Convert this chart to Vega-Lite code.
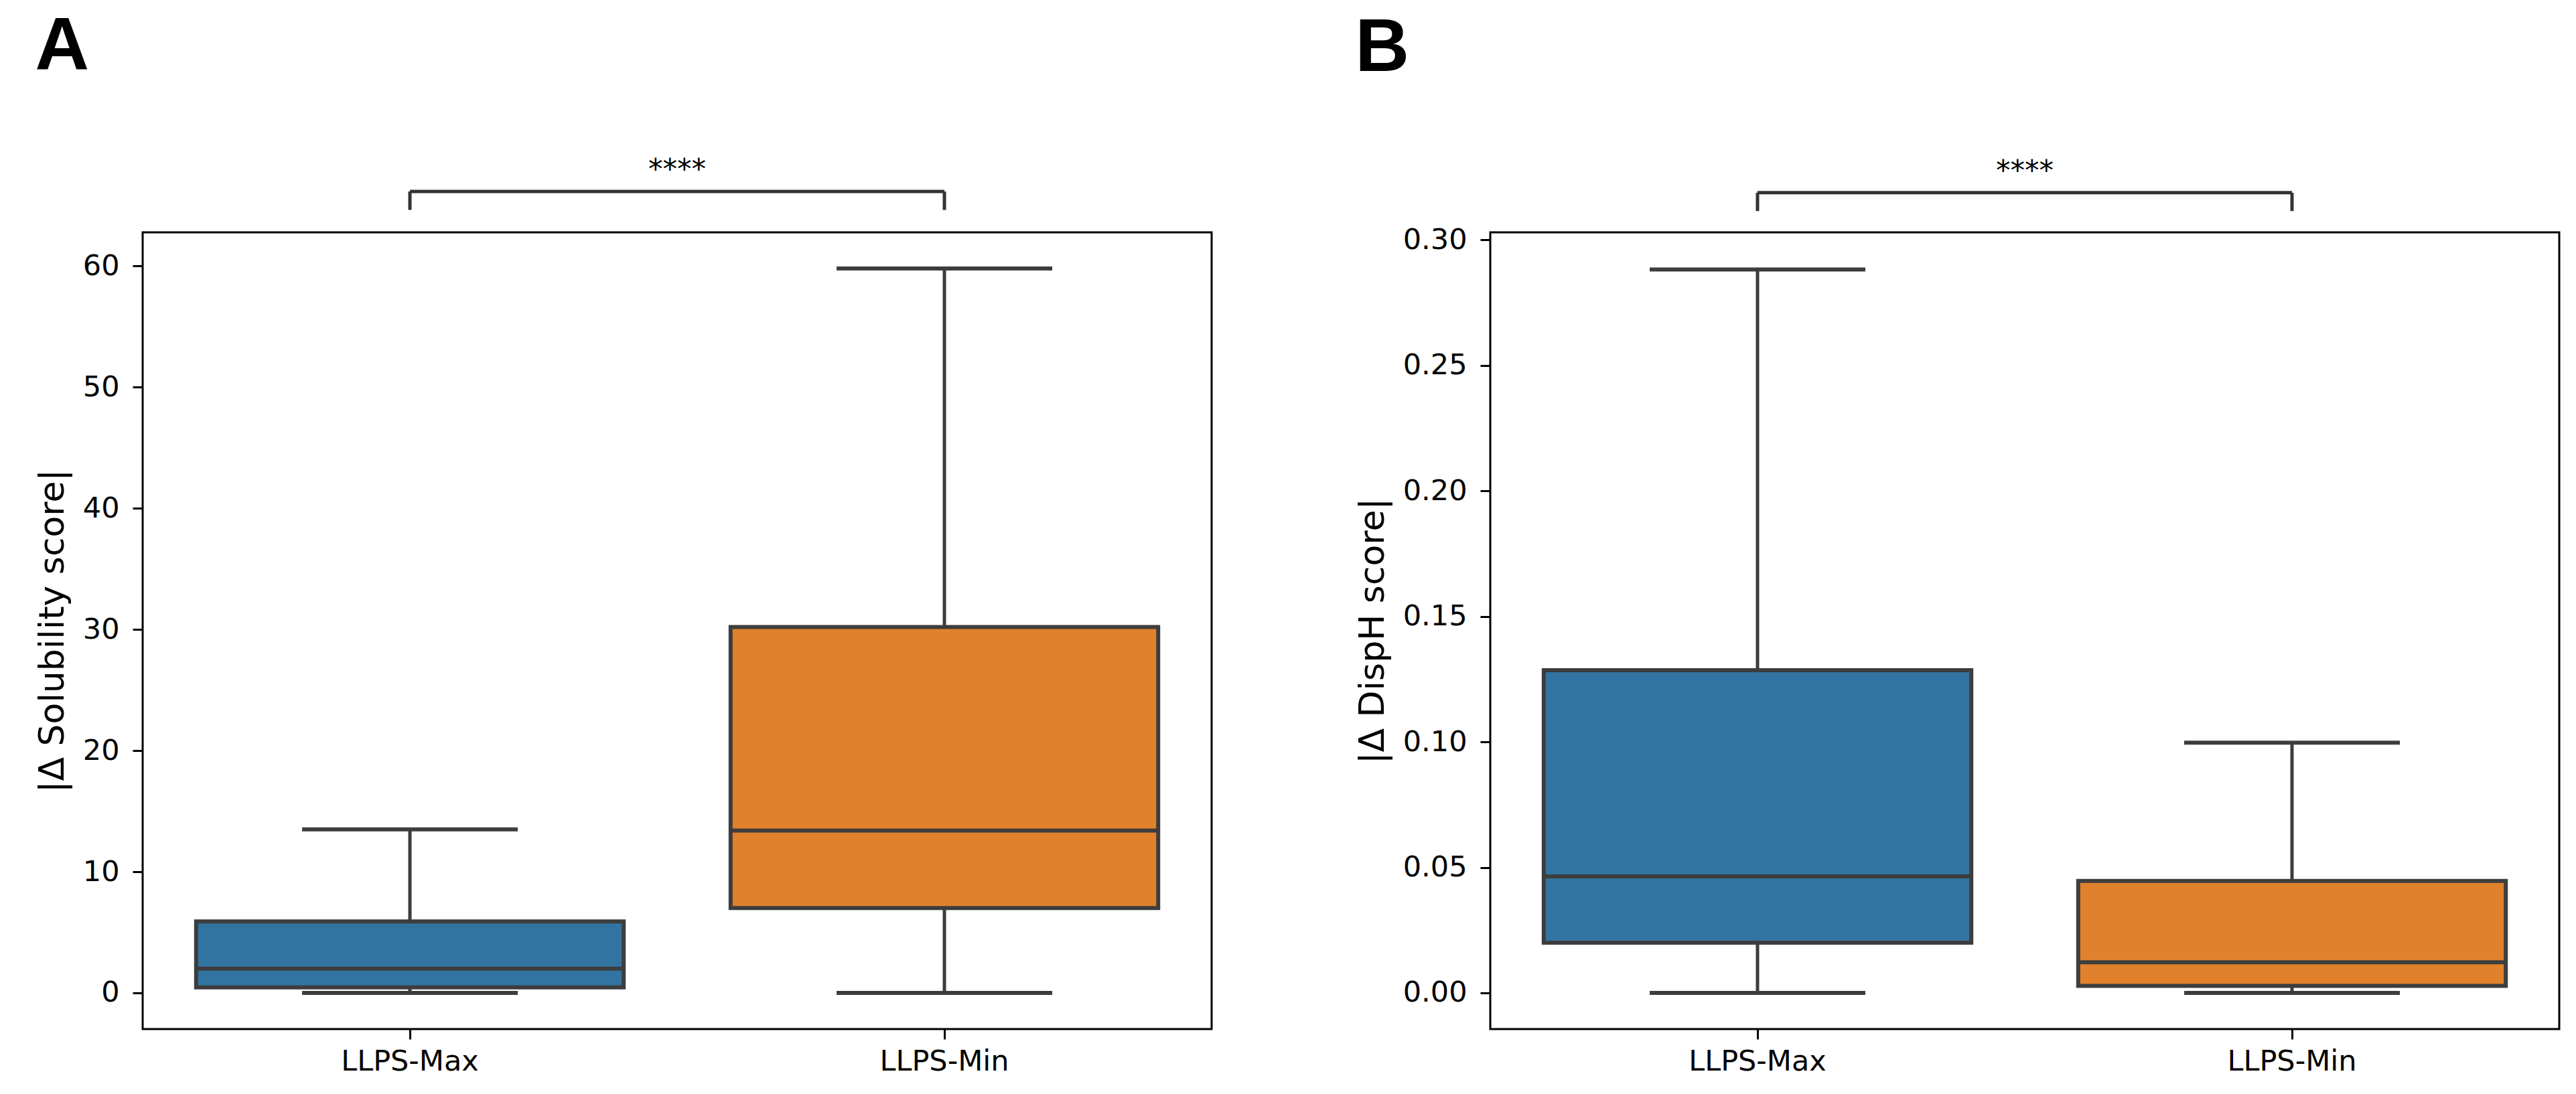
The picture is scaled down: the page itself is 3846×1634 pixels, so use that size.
{
  "$schema": "https://vega.github.io/schema/vega-lite/v6.json",
  "background": "white",
  "padding": {"left": 50, "top": 12, "right": 5, "bottom": 5},
  "spacing": 210,
  "config": {
    "view": {"stroke": "black", "strokeWidth": 3},
    "font": "DejaVu Sans",
    "axis": {
      "grid": false,
      "domain": false,
      "tickColor": "black",
      "tickWidth": 3,
      "tickSize": 15,
      "labelFont": "DejaVu Sans",
      "labelFontSize": 43,
      "labelColor": "black",
      "labelLimit": 0,
      "titleFont": "DejaVu Sans",
      "titleFontSize": 52,
      "titleFontWeight": "normal",
      "titleColor": "black"
    },
    "title": {"font": "Liberation Sans", "fontSize": 112, "fontWeight": "bold", "color": "black", "anchor": "start", "frame": "bounds", "offset": 105}
  },
  "datasets": {
    "boxA": [
      {"group": "LLPS-Max", "lower": 0, "q1": 0.45, "median": 2.0, "q3": 5.9, "upper": 13.5},
      {"group": "LLPS-Min", "lower": 0, "q1": 7.0, "median": 13.4, "q3": 30.2, "upper": 59.8}
    ],
    "boxB": [
      {"group": "LLPS-Max", "lower": 0, "q1": 0.020, "median": 0.0464, "q3": 0.1286, "upper": 0.2882},
      {"group": "LLPS-Min", "lower": 0, "q1": 0.0028, "median": 0.0122, "q3": 0.0446, "upper": 0.0997}
    ],
    "brA": [{"g": "LLPS-Max", "gEnd": "LLPS-Min", "top": 66.16, "foot": 64.64, "label": "****"}],
    "brB": [{"g": "LLPS-Max", "gEnd": "LLPS-Min", "top": 0.3188, "foot": 0.3115, "label": "****"}]
  },
  "hconcat": [
    {
      "width": 1596,
      "height": 1190,
      "title": {"text": "A"},
      "encoding": {
        "x": {"field": "group", "type": "nominal", "scale": {"domain": ["LLPS-Max", "LLPS-Min"], "paddingInner": 0, "paddingOuter": 0}, "axis": {"title": null, "labelAngle": 0, "labelPadding": 12}}
      },
      "layer": [
        {
          "data": {"name": "boxA"},
          "mark": {"type": "rule", "color": "#3d3d3d", "strokeWidth": 5, "opacity": 1},
          "encoding": {
            "y": {"field": "lower", "type": "quantitative", "scale": {"domain": [-2.99, 62.79], "nice": false, "zero": false}, "axis": {"values": [0, 10, 20, 30, 40, 50, 60], "title": "|Δ Solubility score|", "labelPadding": 20, "titlePadding": 18}},
            "y2": {"field": "upper"}
          }
        },
        {
          "data": {"name": "boxA"},
          "mark": {"type": "bar", "width": {"band": 0.8}, "stroke": "#3d3d3d", "strokeWidth": 6, "opacity": 1},
          "encoding": {
            "y": {"field": "q1", "type": "quantitative"},
            "y2": {"field": "q3"},
            "color": {"field": "group", "type": "nominal", "scale": {"domain": ["LLPS-Max", "LLPS-Min"], "range": ["#3274a1", "#e1812c"]}, "legend": null}
          }
        },
        {
          "data": {"name": "boxA"},
          "mark": {"type": "tick", "size": 638, "thickness": 6, "color": "#3d3d3d", "opacity": 1},
          "encoding": {"y": {"field": "median", "type": "quantitative"}}
        },
        {
          "data": {"name": "boxA"},
          "mark": {"type": "tick", "size": 322, "thickness": 6, "color": "#3d3d3d", "opacity": 1},
          "encoding": {"y": {"field": "lower", "type": "quantitative"}}
        },
        {
          "data": {"name": "boxA"},
          "mark": {"type": "tick", "size": 322, "thickness": 6, "color": "#3d3d3d", "opacity": 1},
          "encoding": {"y": {"field": "upper", "type": "quantitative"}}
        },
        {
          "data": {"name": "brA"},
          "mark": {"type": "rule", "color": "#333333", "strokeWidth": 5},
          "encoding": {
            "x": {"field": "g", "type": "nominal"},
            "x2": {"field": "gEnd"},
            "y": {"field": "top", "type": "quantitative"}
          }
        },
        {
          "data": {"name": "brA"},
          "mark": {"type": "rule", "color": "#333333", "strokeWidth": 5},
          "encoding": {
            "x": {"field": "g", "type": "nominal"},
            "y": {"field": "foot", "type": "quantitative"},
            "y2": {"field": "top"}
          }
        },
        {
          "data": {"name": "brA"},
          "mark": {"type": "rule", "color": "#333333", "strokeWidth": 5},
          "encoding": {
            "x": {"field": "gEnd", "type": "nominal"},
            "y": {"field": "foot", "type": "quantitative"},
            "y2": {"field": "top"}
          }
        },
        {
          "data": {"name": "brA"},
          "mark": {"type": "text", "font": "DejaVu Sans", "fontSize": 43, "color": "black", "baseline": "alphabetic", "align": "center", "dy": -19},
          "encoding": {
            "x": {"field": "g", "type": "nominal", "bandPosition": 1},
            "y": {"field": "top", "type": "quantitative"},
            "text": {"field": "label"}
          }
        }
      ]
    },
    {
      "width": 1596,
      "height": 1190,
      "title": {"text": "B"},
      "encoding": {
        "x": {"field": "group", "type": "nominal", "scale": {"domain": ["LLPS-Max", "LLPS-Min"], "paddingInner": 0, "paddingOuter": 0}, "axis": {"title": null, "labelAngle": 0, "labelPadding": 12}}
      },
      "layer": [
        {
          "data": {"name": "boxB"},
          "mark": {"type": "rule", "color": "#3d3d3d", "strokeWidth": 5, "opacity": 1},
          "encoding": {
            "y": {"field": "lower", "type": "quantitative", "scale": {"domain": [-0.01441, 0.30302], "nice": false, "zero": false}, "axis": {"values": [0, 0.05, 0.1, 0.15, 0.2, 0.25, 0.3], "format": ".2f", "title": "|Δ DispH score|", "labelPadding": 20, "titlePadding": 18}},
            "y2": {"field": "upper"}
          }
        },
        {
          "data": {"name": "boxB"},
          "mark": {"type": "bar", "width": {"band": 0.8}, "stroke": "#3d3d3d", "strokeWidth": 6, "opacity": 1},
          "encoding": {
            "y": {"field": "q1", "type": "quantitative"},
            "y2": {"field": "q3"},
            "color": {"field": "group", "type": "nominal", "scale": {"domain": ["LLPS-Max", "LLPS-Min"], "range": ["#3274a1", "#e1812c"]}, "legend": null}
          }
        },
        {
          "data": {"name": "boxB"},
          "mark": {"type": "tick", "size": 638, "thickness": 6, "color": "#3d3d3d", "opacity": 1},
          "encoding": {"y": {"field": "median", "type": "quantitative"}}
        },
        {
          "data": {"name": "boxB"},
          "mark": {"type": "tick", "size": 322, "thickness": 6, "color": "#3d3d3d", "opacity": 1},
          "encoding": {"y": {"field": "lower", "type": "quantitative"}}
        },
        {
          "data": {"name": "boxB"},
          "mark": {"type": "tick", "size": 322, "thickness": 6, "color": "#3d3d3d", "opacity": 1},
          "encoding": {"y": {"field": "upper", "type": "quantitative"}}
        },
        {
          "data": {"name": "brB"},
          "mark": {"type": "rule", "color": "#333333", "strokeWidth": 5},
          "encoding": {
            "x": {"field": "g", "type": "nominal"},
            "x2": {"field": "gEnd"},
            "y": {"field": "top", "type": "quantitative"}
          }
        },
        {
          "data": {"name": "brB"},
          "mark": {"type": "rule", "color": "#333333", "strokeWidth": 5},
          "encoding": {
            "x": {"field": "g", "type": "nominal"},
            "y": {"field": "foot", "type": "quantitative"},
            "y2": {"field": "top"}
          }
        },
        {
          "data": {"name": "brB"},
          "mark": {"type": "rule", "color": "#333333", "strokeWidth": 5},
          "encoding": {
            "x": {"field": "gEnd", "type": "nominal"},
            "y": {"field": "foot", "type": "quantitative"},
            "y2": {"field": "top"}
          }
        },
        {
          "data": {"name": "brB"},
          "mark": {"type": "text", "font": "DejaVu Sans", "fontSize": 43, "color": "black", "baseline": "alphabetic", "align": "center", "dy": -19},
          "encoding": {
            "x": {"field": "g", "type": "nominal", "bandPosition": 1},
            "y": {"field": "top", "type": "quantitative"},
            "text": {"field": "label"}
          }
        }
      ]
    }
  ]
}
